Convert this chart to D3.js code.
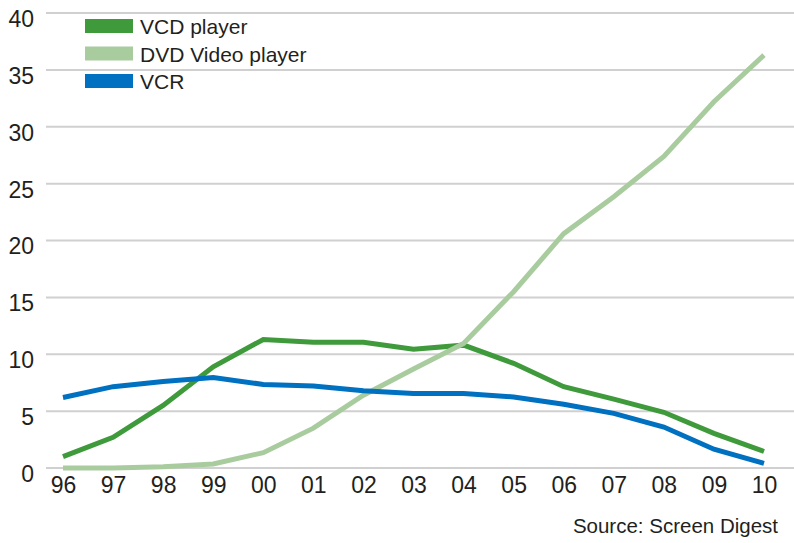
<!DOCTYPE html>
<html>
<head>
<meta charset="utf-8">
<script src="https://cdn.jsdelivr.net/npm/d3@7"></script>
<style>
  body { margin: 0; background: #fff; }
  text { font-family: "Liberation Sans", Arial, sans-serif; fill: #231f20; }
</style>
</head>
<body>
<div id="chart"></div>
<script>
// data
var years = ["96", "97", "98", "99", "00", "01", "02", "03", "04", "05", "06", "07", "08", "09", "10"];
var vcdPlayer = [1.0, 2.7, 5.5, 8.9, 11.3, 11.05, 11.05, 10.45, 10.8, 9.2, 7.15, 6.05, 4.9, 3.05, 1.45];
var dvdPlayer = [0, 0, 0.1, 0.35, 1.35, 3.5, 6.4, 8.7, 10.95, 15.5, 20.6, 23.85, 27.4, 32.2, 36.3];
var vcr = [6.2, 7.15, 7.6, 7.95, 7.35, 7.2, 6.8, 6.55, 6.55, 6.25, 5.6, 4.8, 3.6, 1.65, 0.4];
var yTicks = [0, 5, 10, 15, 20, 25, 30, 35, 40];

var series = [
  { name: "VCD player", values: vcdPlayer, color: "#3f9a3c" },
  { name: "DVD Video player", values: dvdPlayer, color: "#a9cc9f" },
  { name: "VCR", values: vcr, color: "#0070c0" }
];

var svgWidth = 794;
var svgHeight = 543;

var svg = d3.select("#chart")
  .append("svg")
  .attr("width", svgWidth)
  .attr("height", svgHeight);

var x = d3.scalePoint()
  .domain(years)
  .range([63, 764]);

var y = d3.scaleLinear()
  .domain([0, 40])
  .range([468, 13]);

// gridlines
svg.append("g")
  .selectAll("line")
  .data(yTicks)
  .enter()
  .append("line")
  .attr("x1", 46)
  .attr("x2", svgWidth)
  .attr("y1", d => y(d))
  .attr("y2", d => y(d))
  .attr("stroke", "#d0d0d0")
  .attr("stroke-width", 2);

// y labels
var leftAxis = d3.axisLeft(y).tickValues(yTicks).tickSize(0).tickPadding(0);
var yAxis = svg.append("g")
  .attr("transform", "translate(34, 6)")
  .call(leftAxis);
yAxis.select(".domain").remove();
yAxis.selectAll("text")
  .attr("font-size", "23px")
  .attr("fill", "#231f20");

// x labels
var bottomAxis = d3.axisBottom(x).tickSize(0).tickPadding(0);
var xAxis = svg.append("g")
  .attr("transform", "translate(0, 477)")
  .call(bottomAxis);
xAxis.select(".domain").remove();
xAxis.selectAll("text")
  .attr("font-size", "23px")
  .attr("fill", "#231f20");
svg.selectAll(".tick text").style("font-family", "'Liberation Sans', Arial, sans-serif");

// lines
var line = d3.line()
  .x((d, i) => x(years[i]))
  .y(d => y(d));

svg.append("g")
  .selectAll("path")
  .data(series)
  .enter()
  .append("path")
  .attr("d", d => line(d.values))
  .attr("fill", "none")
  .attr("stroke", d => d.color)
  .attr("stroke-width", 5);

// legend
var legend = svg.append("g")
  .selectAll("g")
  .data(series)
  .enter()
  .append("g")
  .attr("transform", (d, i) => `translate(85, ${19 + i * 27.5})`);

legend.append("rect")
  .attr("width", 48)
  .attr("height", 14)
  .attr("fill", d => d.color);

legend.append("text")
  .attr("x", 55)
  .attr("y", 15)
  .attr("font-size", "21px")
  .text(d => d.name);

svg.append("text")
  .attr("x", 778)
  .attr("y", 533)
  .attr("text-anchor", "end")
  .attr("font-size", "20.5px")
  .text("Source: Screen Digest");
</script>
</body>
</html>
